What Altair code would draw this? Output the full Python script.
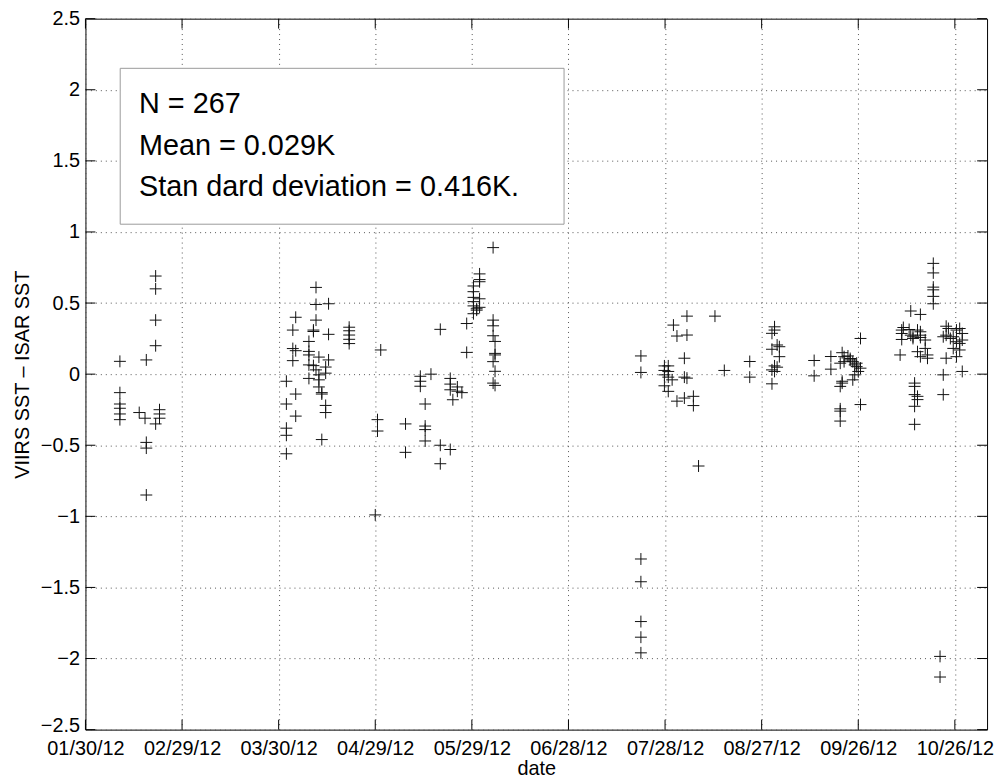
import json
import altair as alt
import pandas as pd

# ---- data (x = days since 2012-01-30, y = VIIRS SST - ISAR SST) ----
obs_day = [
    10.7, 16.7, 18.5, 18.9, 21.8, 23.0,
    62.4, 64.4, 65.3, 69.4, 70.8, 71.6, 72.5, 73.4, 74.6, 75.5, 81.9,
    90.0, 90.7, 91.7, 99.4, 104.0, 105.5, 107.3, 110.2, 113.3, 114.1, 115.5, 116.9,
    118.4, 120.5, 121.5, 122.4, 126.6, 127.2,
    172.5, 179.8, 181.0, 182.2, 182.6, 183.7, 186.0, 186.8, 188.8, 190.4, 195.5, 198.4,
    206.3, 213.2, 214.0, 214.8, 215.5,
    226.3, 231.5, 234.4, 235.0, 235.6, 236.8, 237.5, 238.3, 238.9, 239.5, 240.0, 240.7,
    253.0, 253.5, 254.0, 255.8, 256.3, 257.0, 257.5, 258.4, 259.3, 260.8, 261.5, 263.3,
    265.4, 266.4, 267.3, 268.0, 268.6, 269.5, 270.5, 271.5, 272.3,
]
obs_diff = [
    [0.09, -0.13, -0.21, -0.24, -0.28, -0.32], [-0.27], [-0.31], [0.10, -0.48, -0.52, -0.85],
    [0.69, 0.60, 0.38, 0.20, -0.35], [-0.25, -0.28, -0.31],
    [-0.05, -0.21, -0.38, -0.43, -0.56], [0.31, 0.18, 0.095], [0.40, 0.165, -0.14, -0.295],
    [0.23, 0.16, 0.135, 0.065, -0.03], [0.31, 0.30, 0.06], [0.61, 0.49, 0.38, 0.03],
    [0.12, -0.005, -0.04, -0.09], [-0.14, -0.13, -0.46], [0.05, 0.007, -0.22, -0.27],
    [0.495, 0.28, 0.10], [0.33, 0.305, 0.275, 0.245, 0.215],
    [-0.99], [-0.32, -0.40], [0.17], [-0.35, -0.55], [-0.015, -0.05, -0.085],
    [-0.21, -0.365, -0.39, -0.47], [0.0], [0.315, -0.50, -0.63], [-0.53, -0.03, -0.07, -0.11],
    [-0.18], [-0.09, -0.12], [-0.13],
    [0.356, 0.153], [0.62, 0.58, 0.54, 0.51, 0.48, 0.425], [0.46, 0.45],
    [0.705, 0.665, 0.65, 0.53, 0.47], [0.89, 0.38, 0.34, 0.27, 0.088, -0.063],
    [0.23, 0.146, 0.135, 0.02, -0.079],
    [0.128, 0.012, -1.30, -1.46, -1.74, -1.85, -1.96], [0.058, 0.026, -0.005, -0.082],
    [-0.021, -0.121, 0.058, 0.019], [-0.04], [0.345], [0.268, -0.19], [0.112, -0.021, -0.168],
    [0.408, 0.275, -0.028], [-0.156, -0.221], [-0.646], [0.408], [0.026],
    [0.089, -0.021], [0.287, 0.175, 0.03, -0.068], [0.333, 0.31, 0.058, 0.019],
    [0.205, 0.049], [0.193, 0.123],
    [0.096, -0.012], [0.124, 0.035], [0.077, -0.086, -0.244, -0.26, -0.33], [0.151, -0.063, -0.05],
    [0.123, 0.088], [0.128], [0.1, 0.11], [0.088, -0.04], [0.065, -0.005], [0.053, 0.077],
    [0.019], [0.251, 0.042, -0.214],
    [0.135], [0.31, 0.286, 0.244], [0.328], [0.314], [0.444, 0.274], [0.263, 0.251],
    [-0.063, -0.086, -0.144, -0.226, -0.353], [-0.156, -0.179, 0.31, 0.158],
    [0.42, 0.298, 0.274, 0.258, 0.123], [0.24, 0.181], [0.135, 0.112],
    [0.779, 0.712, 0.612, 0.593, 0.547, 0.495],
    [-1.985, -2.13], [0.263, -0.005, -0.144], [0.337, 0.274, 0.112], [0.321], [0.251],
    [0.263, 0.181], [0.31, 0.228, 0.123], [0.321, 0.216, 0.17], [0.286, 0.24, 0.019],
]

x_tick_days = [0, 30, 60, 90, 120, 150, 180, 210, 240, 270]
x_tick_labels = ["01/30/12", "02/29/12", "03/30/12", "04/29/12", "05/29/12",
                 "06/28/12", "07/28/12", "08/27/12", "09/26/12", "10/26/12"]
x_domain = [0, 280]
y_ticks = [-2.5, -2.0, -1.5, -1.0, -0.5, 0.0, 0.5, 1.0, 1.5, 2.0, 2.5]
y_domain = [-2.5, 2.5]
stats_lines = ["N = 267", "Mean = 0.029K", "Stan dard deviation = 0.416K."]

# ---- tables ----
rows = []
for d, vals in zip(obs_day, obs_diff):
    for v in vals:
        rows.append({"day": d, "diff": v})
df = pd.DataFrame(rows)
xt = pd.DataFrame({"day": x_tick_days})
yt = pd.DataFrame({"diff": y_ticks})

W, H = 908, 716
FONT = "Liberation Sans, Arial, Helvetica, sans-serif"
TICK = 10

label_expr = json.dumps(x_tick_labels) + "[round(datum.value / 30)]"

x_axis = alt.Axis(
    values=x_tick_days, labelExpr=label_expr, title="date",
    grid=True, gridColor="#555", gridDash=[1, 4], gridWidth=1,
    ticks=False, domain=False, labelFlush=False, labelOverlap=False,
    labelFont=FONT, labelFontSize=20, labelColor="black", labelPadding=9,
    titleFont=FONT, titleFontSize=20, titleFontWeight="normal",
    titleColor="black", titlePadding=0,
)
y_axis = alt.Axis(
    values=y_ticks, format=".1~f", title="VIIRS SST \u2013 ISAR SST",
    grid=True, gridColor="#555", gridDash=[1, 4], gridWidth=1,
    ticks=False, domain=False, labelFlush=False, labelOverlap=False,
    labelFont=FONT, labelFontSize=20, labelColor="black", labelPadding=6,
    labelOffset={"condition": {"test": "datum.value == %s" % y_domain[0], "value": -4}, "value": 0},
    titleFont=FONT, titleFontSize=20, titleFontWeight="normal",
    titleColor="black", titlePadding=8,
)
x_scale = alt.Scale(domain=x_domain, nice=False, zero=False)
y_scale = alt.Scale(domain=y_domain, nice=False, zero=False)


def xe():
    return alt.X("day:Q", scale=x_scale, axis=x_axis)


def ye():
    return alt.Y("diff:Q", scale=y_scale, axis=y_axis)


points = alt.Chart(df).mark_point(
    shape="M-1,0L1,0M0,-1L0,1", size=144, filled=False,
    stroke="#111", strokeWidth=1, opacity=1,
).encode(x=xe(), y=ye())

tick_style = dict(color="black", strokeWidth=1)
ticks_bottom = alt.Chart(xt).mark_rule(**tick_style).encode(
    x=xe(), y=alt.value(H), y2=alt.value(H - TICK))
ticks_top = alt.Chart(xt).mark_rule(**tick_style).encode(
    x=xe(), y=alt.value(0), y2=alt.value(TICK))
ticks_left = alt.Chart(yt).mark_rule(**tick_style).encode(
    y=ye(), x=alt.value(0), x2=alt.value(TICK))
ticks_right = alt.Chart(yt).mark_rule(**tick_style).encode(
    y=ye(), x=alt.value(W), x2=alt.value(W - TICK))

box_data = pd.DataFrame({"k": [0]})
box = alt.Chart(box_data).mark_rect(fill="white", stroke="#9a9a9a", strokeWidth=1).encode(
    x=alt.value(35), x2=alt.value(482), y=alt.value(50), y2=alt.value(207))

texts = []
for i, line in enumerate(stats_lines):
    texts.append(
        alt.Chart(box_data).mark_text(
            text=line, align="left", baseline="alphabetic",
            font=FONT, fontSize=29, color="black",
        ).encode(x=alt.value(54), y=alt.value(95 + 42 * i))
    )

chart = alt.layer(
    points, ticks_bottom, ticks_top, ticks_left, ticks_right, box, *texts
).properties(
    width=W, height=H,
    autosize=alt.AutoSizeParams(type="none"),
    padding={"left": 78, "top": 8, "right": 8, "bottom": 50},
).configure(
    background="white"
).configure_view(
    stroke="black", strokeWidth=1,
)

chart.save("out.html", embed_options={"renderer": "svg", "actions": False})
